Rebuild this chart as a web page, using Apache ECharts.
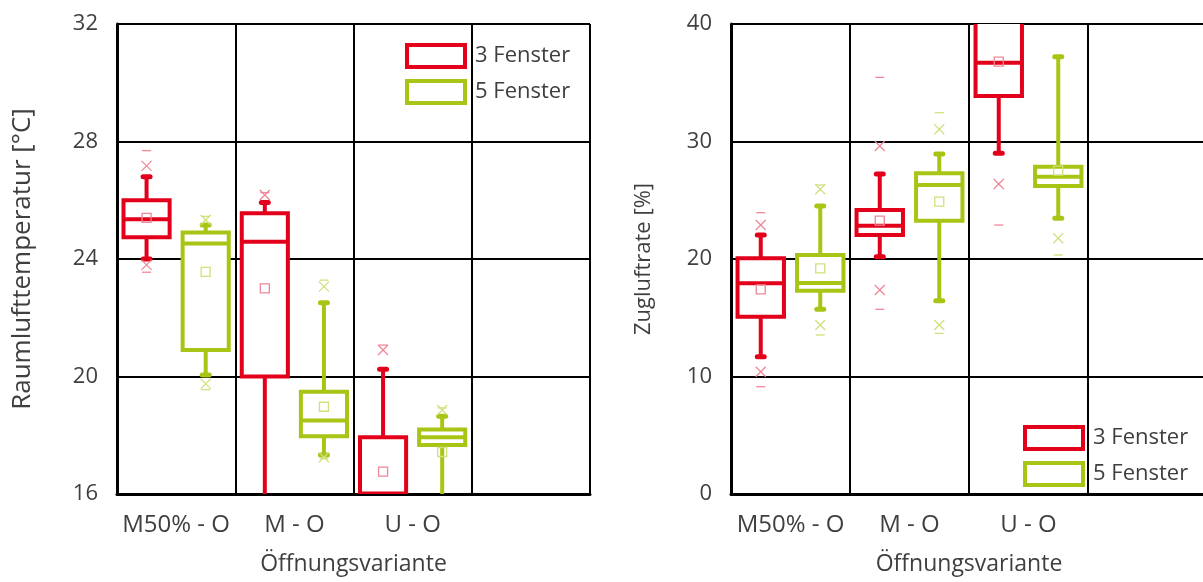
<!DOCTYPE html>
<html>
<head>
<meta charset="utf-8">
<script src="https://cdn.jsdelivr.net/npm/echarts@6/dist/echarts.min.js"></script>
<style>
  html, body { margin: 0; padding: 0; background: #fff; overflow: hidden; }
  #chart { width: 1203px; height: 582px; }
</style>
</head>
<body>
<div id="chart"></div>
<script>
// Opening variants (last column is left empty)
const categories = ['M50% - O', 'M - O', 'U - O', ''];

// Rows: [category, minDash, lowCross, lowWhisker, q1, median, q3, highWhisker, highCross, maxDash, mean]
const tempThree = [
  [0, 23.55, 23.8, 24.0, 24.74, 25.35, 26.0, 26.8, 27.17, 27.69, 25.4],
  [1, 13.0, 13.5, 14.0, 20.0, 24.59, 25.56, 25.92, 26.18, 26.26, 23.0],
  [2, 14.0, 14.3, 14.5, 15.5, 16.02, 17.93, 20.25, 20.9, 21.07, 16.76]
];
const tempFive = [
  [0, 19.55, 19.75, 20.05, 20.9, 24.53, 24.9, 25.16, 25.33, 25.45, 23.56],
  [1, 17.2, 17.25, 17.33, 17.97, 18.5, 19.48, 22.51, 23.06, 23.28, 18.97],
  [2, 14.0, 14.5, 15.0, 17.67, 17.93, 18.2, 18.65, 18.86, 18.93, 17.43]
];
const draftThree = [
  [0, 9.13, 10.41, 11.69, 15.09, 17.93, 20.06, 22.04, 22.89, 23.94, 17.42],
  [1, 15.72, 17.36, 20.2, 22.04, 22.84, 24.17, 27.23, 29.62, 35.46, 23.26],
  [2, 22.89, 26.38, 29.0, 33.87, 36.71, 41.5, 44.0, 45.0, 46.0, 36.8]
];
const draftFive = [
  [0, 13.53, 14.38, 15.72, 17.3, 17.96, 20.34, 24.51, 25.93, 26.3, 19.21],
  [1, 13.67, 14.38, 16.45, 23.26, 26.3, 27.29, 28.94, 31.04, 32.45, 24.88],
  [2, 20.34, 21.76, 23.46, 26.21, 27.0, 27.86, 37.22, 41.0, 42.0, 27.52]
];

const tempTicks = { min: 16, max: 32, interval: 4 };
const draftTicks = { min: 0, max: 40, interval: 10 };

const RED = '#e2001a';
const RED_LIGHT = '#ee8796';
const GREEN = '#a9c414';
const GREEN_LIGHT = '#cfe07c';
const TEXT = '#3f3f3f';
const FONT = '"Open Sans", "DejaVu Sans", sans-serif';

function boxRenderer(color, light, offset, yMin, yMax) {
  return function (params, api) {
    const cat = api.value(0);
    const band = api.size([1, 0])[0];
    const cx = api.coord([cat, yMin])[0] + offset * band;
    const half = 0.195 * band;
    const y = v => api.coord([cat, v])[1];
    const inRange = v => v >= yMin && v <= yMax;
    const v = i => api.value(i);
    const children = [];
    const lw = 4;

    // whiskers
    children.push({ type: 'line', shape: { x1: cx, y1: y(v(6)), x2: cx, y2: y(v(7)) },
      style: { stroke: color, lineWidth: lw } });
    children.push({ type: 'line', shape: { x1: cx, y1: y(v(4)), x2: cx, y2: y(v(3)) },
      style: { stroke: color, lineWidth: lw } });
    // whisker caps
    [v(3), v(7)].forEach(c => {
      children.push({ type: 'rect', shape: { x: cx - 6, y: y(c) - 2.5, width: 12, height: 5, r: 2.5 },
        style: { fill: color } });
    });
    // box
    children.push({ type: 'rect',
      shape: { x: cx - half, y: y(v(6)), width: 2 * half, height: y(v(4)) - y(v(6)) },
      style: { fill: '#ffffff', stroke: color, lineWidth: lw } });
    // median
    children.push({ type: 'line', shape: { x1: cx - half, y1: y(v(5)), x2: cx + half, y2: y(v(5)) },
      style: { stroke: color, lineWidth: lw } });
    // crosses
    [v(2), v(8)].forEach(c => {
      if (!inRange(c)) return;
      const yy = y(c);
      children.push({ type: 'line', shape: { x1: cx - 5, y1: yy - 5, x2: cx + 5, y2: yy + 5 },
        style: { stroke: light, lineWidth: 1.3 } });
      children.push({ type: 'line', shape: { x1: cx - 5, y1: yy + 5, x2: cx + 5, y2: yy - 5 },
        style: { stroke: light, lineWidth: 1.3 } });
    });
    // extreme dashes
    [v(1), v(9)].forEach(c => {
      if (!inRange(c)) return;
      const yy = y(c);
      children.push({ type: 'line', shape: { x1: cx - 4.5, y1: yy, x2: cx + 4.5, y2: yy },
        style: { stroke: light, lineWidth: 1.3 } });
    });
    // mean
    if (inRange(v(10))) {
      const ym = y(v(10));
      children.push({ type: 'rect', shape: { x: cx - 4.5, y: ym - 4.5, width: 9, height: 9 },
        style: { fill: 'none', stroke: light, lineWidth: 1.3 } });
    }
    return { type: 'group', children: children };
  };
}

function boxSeries(name, data, color, light, offset, axisIdx, ticks) {
  return {
    type: 'custom',
    name: name,
    xAxisIndex: axisIdx,
    yAxisIndex: axisIdx,
    clip: true,
    itemStyle: { color: color },
    encode: { x: 0, y: [1, 2, 3, 4, 5, 6, 7, 8, 9, 10] },
    data: data,
    renderItem: boxRenderer(color, light, offset, ticks.min, ticks.max)
  };
}

function xAxisOpt(gridIndex) {
  return {
    type: 'category',
    gridIndex: gridIndex,
    data: categories,
    boundaryGap: true,
    name: 'Öffnungsvariante',
    nameLocation: 'middle',
    nameGap: 59,
    nameTextStyle: { color: TEXT, fontSize: 23, fontFamily: FONT },
    axisLine: { lineStyle: { color: '#000', width: 3 } },
    axisTick: { show: false },
    axisLabel: { color: TEXT, fontSize: 24, fontFamily: FONT, margin: 19, interval: 0 },
    splitLine: { show: true, interval: 0, lineStyle: { color: '#000', width: 2 } }
  };
}

function yAxisOpt(gridIndex, ticks, name, nameSize, nameGap, margin) {
  return {
    type: 'value',
    gridIndex: gridIndex,
    min: ticks.min,
    max: ticks.max,
    interval: ticks.interval,
    name: name,
    nameLocation: 'middle',
    nameGap: nameGap,
    nameTextStyle: { color: TEXT, fontSize: nameSize, fontFamily: FONT },
    axisLine: { show: true, lineStyle: { color: '#000', width: 3 } },
    axisTick: { show: false },
    axisLabel: { color: TEXT, fontSize: 22, fontFamily: FONT, margin: margin },
    splitLine: { show: true, lineStyle: { color: '#000', width: 2 } }
  };
}

function legendOpt(left, top) {
  return {
    left: left,
    top: top,
    padding: 0,
    orient: 'vertical',
    itemWidth: 58,
    itemHeight: 22,
    itemGap: 10,
    icon: 'rect',
    selectedMode: false,
    textStyle: { color: TEXT, fontSize: 22, fontFamily: FONT, padding: [0, 0, 0, 5] },
    data: [
      { name: '3 Fenster', itemStyle: { color: '#ffffff', borderColor: RED, borderWidth: 4 } },
      { name: '5 Fenster', itemStyle: { color: '#ffffff', borderColor: GREEN, borderWidth: 4 } }
    ]
  };
}

const chart = echarts.init(document.getElementById('chart'), null, { renderer: 'canvas' });
chart.setOption({
  animation: false,
  backgroundColor: '#ffffff',
  textStyle: { fontFamily: FONT },
  grid: [
    { left: 117, top: 24, width: 473, height: 470, outerBoundsMode: 'none', containLabel: false },
    { left: 731, top: 24, width: 476, height: 470, outerBoundsMode: 'none', containLabel: false }
  ],
  xAxis: [xAxisOpt(0), xAxisOpt(1)],
  yAxis: [
    yAxisOpt(0, tempTicks, 'Raumlufttemperatur [°C]', 26, 81, 19),
    yAxisOpt(1, draftTicks, 'Zugluftrate [%]', 22, 76, 19)
  ],
  legend: [legendOpt(405, 43), legendOpt(1023, 425)],
  series: [
    boxSeries('3 Fenster', tempThree, RED, RED_LIGHT, -0.25, 0, tempTicks),
    boxSeries('5 Fenster', tempFive, GREEN, GREEN_LIGHT, 0.25, 0, tempTicks),
    boxSeries('3 Fenster', draftThree, RED, RED_LIGHT, -0.25, 1, draftTicks),
    boxSeries('5 Fenster', draftFive, GREEN, GREEN_LIGHT, 0.25, 1, draftTicks)
  ]
});
</script>
</body>
</html>
